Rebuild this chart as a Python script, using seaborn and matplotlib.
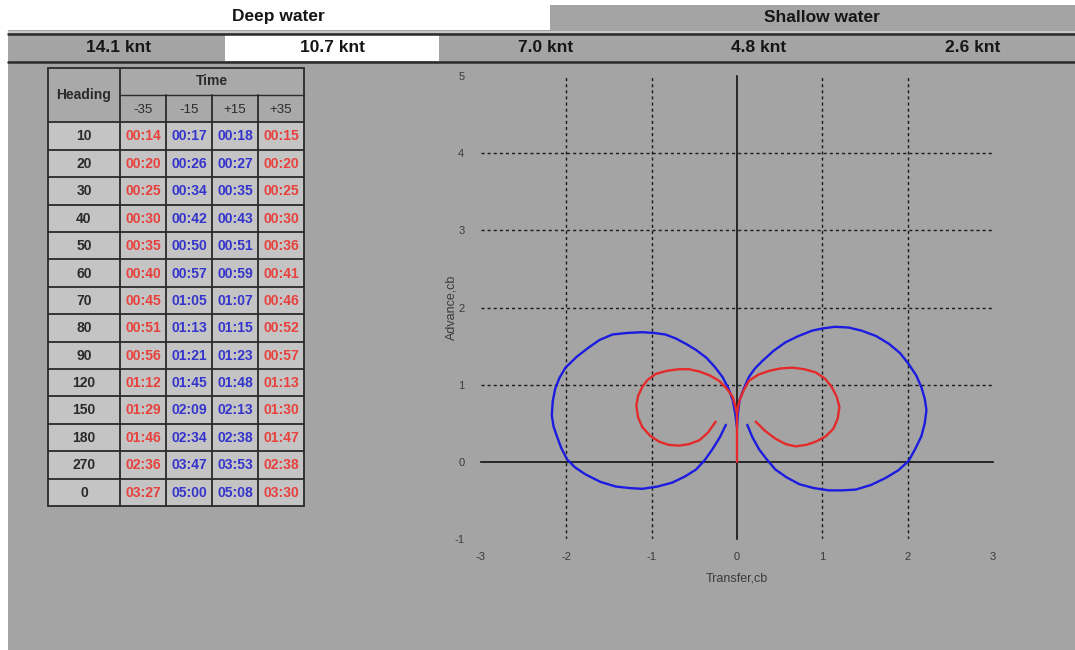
import matplotlib
matplotlib.use("Agg")
import matplotlib.pyplot as plt
from matplotlib.patches import Rectangle
import seaborn as sns
import pandas as pd

# ---------------- data ----------------
water_labels = ["Deep water", "Shallow water"]
speed_labels = ["14.1 knt", "10.7 knt", "7.0 knt", "4.8 knt", "2.6 knt"]
selected_speed = 1

headings = ["10", "20", "30", "40", "50", "60", "70", "80", "90", "120", "150", "180", "270", "0"]
time_cols = ["-35", "-15", "+15", "+35"]
time_m35 = ["00:14", "00:20", "00:25", "00:30", "00:35", "00:40", "00:45", "00:51", "00:56", "01:12", "01:29", "01:46", "02:36", "03:27"]
time_m15 = ["00:17", "00:26", "00:34", "00:42", "00:50", "00:57", "01:05", "01:13", "01:21", "01:45", "02:09", "02:34", "03:47", "05:00"]
time_p15 = ["00:18", "00:27", "00:35", "00:43", "00:51", "00:59", "01:07", "01:15", "01:23", "01:48", "02:13", "02:38", "03:53", "05:08"]
time_p35 = ["00:15", "00:20", "00:25", "00:30", "00:36", "00:41", "00:46", "00:52", "00:57", "01:13", "01:30", "01:47", "02:38", "03:30"]

red_left_x = [0.00, 0.00, -0.02, -0.05, -0.12, -0.21, -0.32, -0.44, -0.56, -0.68, -0.82, -0.95, -1.05, -1.11, -1.16, -1.18, -1.16, -1.11, -1.02, -0.91, -0.80, -0.68, -0.56, -0.44, -0.34, -0.25]
red_left_y = [0.00, 0.62, 0.72, 0.84, 0.95, 1.05, 1.12, 1.17, 1.20, 1.20, 1.18, 1.14, 1.06, 0.97, 0.85, 0.73, 0.58, 0.45, 0.34, 0.26, 0.22, 0.21, 0.23, 0.28, 0.38, 0.52]
red_right_x = [0.00, 0.01, 0.03, 0.08, 0.14, 0.25, 0.38, 0.51, 0.65, 0.79, 0.92, 1.03, 1.11, 1.17, 1.20, 1.18, 1.13, 1.04, 0.92, 0.81, 0.69, 0.57, 0.45, 0.33, 0.22]
red_right_y = [0.62, 0.70, 0.80, 0.93, 1.05, 1.13, 1.18, 1.21, 1.22, 1.20, 1.16, 1.08, 0.97, 0.84, 0.71, 0.56, 0.43, 0.33, 0.26, 0.22, 0.20, 0.23, 0.30, 0.40, 0.52]

blue_left_x = [0.00, -0.02, -0.05, -0.10, -0.17, -0.26, -0.36, -0.48, -0.60, -0.72, -0.84, -0.97, -1.11, -1.29, -1.46, -1.61, -1.74, -1.88, -2.01, -2.08, -2.13, -2.16, -2.17, -2.15, -2.11, -2.06, -1.99, -1.90, -1.78, -1.60, -1.42, -1.26, -1.11, -0.93, -0.76, -0.61, -0.48, -0.38, -0.29, -0.20, -0.13]
blue_left_y = [0.45, 0.62, 0.80, 0.95, 1.10, 1.23, 1.35, 1.45, 1.53, 1.60, 1.65, 1.67, 1.68, 1.67, 1.65, 1.58, 1.48, 1.36, 1.22, 1.09, 0.95, 0.78, 0.60, 0.46, 0.33, 0.18, 0.03, -0.07, -0.16, -0.26, -0.32, -0.34, -0.35, -0.32, -0.27, -0.19, -0.10, 0.02, 0.16, 0.32, 0.48]
blue_right_x = [0.00, 0.01, 0.03, 0.08, 0.14, 0.21, 0.30, 0.43, 0.57, 0.72, 0.88, 1.01, 1.15, 1.31, 1.46, 1.63, 1.78, 1.91, 2.01, 2.10, 2.16, 2.20, 2.22, 2.20, 2.16, 2.09, 2.01, 1.89, 1.74, 1.57, 1.39, 1.23, 1.08, 0.90, 0.73, 0.58, 0.45, 0.35, 0.26, 0.18, 0.12]
blue_right_y = [0.45, 0.62, 0.80, 0.95, 1.10, 1.21, 1.31, 1.44, 1.55, 1.63, 1.70, 1.73, 1.75, 1.74, 1.70, 1.63, 1.53, 1.41, 1.27, 1.12, 0.97, 0.82, 0.67, 0.50, 0.33, 0.17, 0.01, -0.11, -0.21, -0.30, -0.36, -0.37, -0.37, -0.34, -0.29, -0.20, -0.10, 0.03, 0.16, 0.32, 0.48]

x_ticks = [-3, -2, -1, 0, 1, 2, 3]
y_ticks = [-1, 0, 1, 2, 3, 4, 5]

# ---------------- style ----------------
sns.set_theme(style="white")
plt.rcParams["font.family"] = ["Liberation Sans", "DejaVu Sans"]
plt.rcParams["axes.unicode_minus"] = False

W, H = 1075, 650
fig = plt.figure(figsize=(W / 100, H / 100), dpi=100, facecolor="white")

PANEL = "#a4a4a4"
HDR = "#a9a9a9"
CELL = "#c4c4c4"
LINE = "#2a2a2a"
RED_T = "#e8403c"
BLUE_T = "#3434cc"

# background "UI" layer in pixel coordinates
bg = fig.add_axes([0, 0, 1, 1], zorder=0)
bg.set_xlim(0, W)
bg.set_ylim(H, 0)
bg.axis("off")

def rect(x0, y0, x1, y1, fc, ec="none", lw=0):
    bg.add_patch(Rectangle((x0, y0), x1 - x0, y1 - y0, facecolor=fc, edgecolor=ec, linewidth=lw))

# main gray panel
rect(8, 30, W, H, PANEL)
# shallow water header box
rect(550, 5, W, 30, PANEL)
bg.text(278, 17, water_labels[0], ha="center", va="center", fontsize=12.5, fontweight="bold", color="#161616")
bg.text(822, 17, water_labels[1], ha="center", va="center", fontsize=12.5, fontweight="bold", color="#161616")

# speed row
bg.plot([8, W], [31.5, 31.5], color="#d0d0d0", lw=1.2)
bg.plot([8, W], [34, 34], color=LINE, lw=1.8)
cell_w = (W - 8) / len(speed_labels)
for i, lab in enumerate(speed_labels):
    x0 = 8 + i * cell_w + 4
    if i == selected_speed:
        rect(x0, 35, x0 + cell_w, 61, "white")
    bg.text(x0 + cell_w / 2, 48, lab, ha="center", va="center", fontsize=12.5, fontweight="bold", color="#161616")
bg.plot([8, W], [62, 62], color=LINE, lw=1.8)

# table
col_edges = [48, 120, 166, 212, 258, 304]
top, mid, hdr_bot = 67.5, 95, 122.3
row_h = 27.4
n_rows = len(headings)
tab_bot = hdr_bot + n_rows * row_h
rect(col_edges[0], top, col_edges[-1], hdr_bot, HDR)
rect(col_edges[0], hdr_bot, col_edges[-1], tab_bot, CELL)
for i in range(n_rows + 1):
    y = hdr_bot + i * row_h
    bg.plot([col_edges[0], col_edges[-1]], [y, y], color=LINE, lw=1.3)
bg.plot([col_edges[1], col_edges[-1]], [mid, mid], color=LINE, lw=1.0)
bg.plot([col_edges[0], col_edges[-1]], [top, top], color=LINE, lw=1.3)
for j, x in enumerate(col_edges):
    y0 = top if j in (0, 1, 5) else mid
    bg.plot([x, x], [y0, tab_bot], color=LINE, lw=1.3)

bg.text((col_edges[0] + col_edges[1]) / 2, (top + hdr_bot) / 2, "Heading", ha="center", va="center",
        fontsize=10, fontweight="bold", color="#2a2a2a")
bg.text((col_edges[1] + col_edges[-1]) / 2, (top + mid) / 2, "Time", ha="center", va="center",
        fontsize=10, fontweight="bold", color="#2a2a2a")
for j, lab in enumerate(time_cols):
    bg.text((col_edges[j + 1] + col_edges[j + 2]) / 2, (mid + hdr_bot) / 2 + 1, lab, ha="center", va="center",
            fontsize=9.5, color="#2a2a2a")

columns = [time_m35, time_m15, time_p15, time_p35]
col_colors = [RED_T, BLUE_T, BLUE_T, RED_T]
for i, h in enumerate(headings):
    yc = hdr_bot + (i + 0.5) * row_h + 0.5
    bg.text((col_edges[0] + col_edges[1]) / 2, yc, h, ha="center", va="center",
            fontsize=10, fontweight="bold", color="#2a2a2a")
    for j, col in enumerate(columns):
        bg.text((col_edges[j + 1] + col_edges[j + 2]) / 2, yc, col[i], ha="center", va="center",
                fontsize=10, fontweight="bold", color=col_colors[j])

# ---------------- plot ----------------
pos = [481 / W, 1 - 539 / H, 512 / W, 463 / H]
ax = fig.add_axes(pos, zorder=2)
ax.set_facecolor("none")

frames = []
for name, xs, ys in [("blue_left", blue_left_x, blue_left_y),
                     ("blue_right", blue_right_x, blue_right_y),
                     ("red_left", red_left_x, red_left_y),
                     ("red_right", red_right_x, red_right_y)]:
    frames.append(pd.DataFrame({"Transfer": xs, "Advance": ys, "curve": name}))
df = pd.concat(frames, ignore_index=True)
palette = {"blue_left": "#1c1ce0", "blue_right": "#1c1ce0", "red_left": "#e42a2a", "red_right": "#e42a2a"}

for xv in x_ticks[1:-1]:
    if xv != 0:
        ax.axvline(xv, color="#1a1a1a", lw=1.0, ls=(0, (2.2, 2.2)), zorder=1)
for yv in y_ticks[1:-1]:
    if yv != 0:
        ax.axhline(yv, color="#1a1a1a", lw=1.0, ls=(0, (2.2, 2.2)), zorder=1)

sns.lineplot(data=df, x="Transfer", y="Advance", hue="curve", units="curve", estimator=None,
             sort=False, palette=palette, legend=False, lw=1.7, ax=ax, zorder=3)

ax.set_xlim(x_ticks[0], x_ticks[-1])
ax.set_ylim(y_ticks[0], y_ticks[-1])
ax.set_xticks(x_ticks)
ax.set_yticks(y_ticks)
for s in ["top", "right"]:
    ax.spines[s].set_visible(False)
ax.spines["left"].set_position(("data", 0))
ax.spines["bottom"].set_position(("data", 0))
for s in ["left", "bottom"]:
    ax.spines[s].set_color("#111111")
    ax.spines[s].set_linewidth(1.2)
    ax.spines[s].set_zorder(2)
ax.tick_params(direction="inout", length=5, width=1.0, colors="#111111", labelleft=False, labelbottom=False)
ax.set_xlabel("")
ax.set_ylabel("")

# label axes (outer tick labels)
ax2 = fig.add_axes(pos, zorder=1)
ax2.set_facecolor("none")
ax2.set_xlim(x_ticks[0], x_ticks[-1])
ax2.set_ylim(y_ticks[0], y_ticks[-1])
ax2.set_xticks(x_ticks)
ax2.set_yticks(y_ticks)
for s in ax2.spines.values():
    s.set_visible(False)
ax2.tick_params(length=0, labelsize=8, labelcolor="#3a3a3a", pad=9)
ax2.tick_params(axis="y", pad=12)
ax2.set_xlabel("Transfer,cb", fontsize=9, color="#3a3a3a", labelpad=8)
ax2.set_ylabel("Advance,cb", fontsize=9, color="#3a3a3a", labelpad=-2)
ax2.grid(False)

fig.savefig("out.png", dpi=100, facecolor="white")
